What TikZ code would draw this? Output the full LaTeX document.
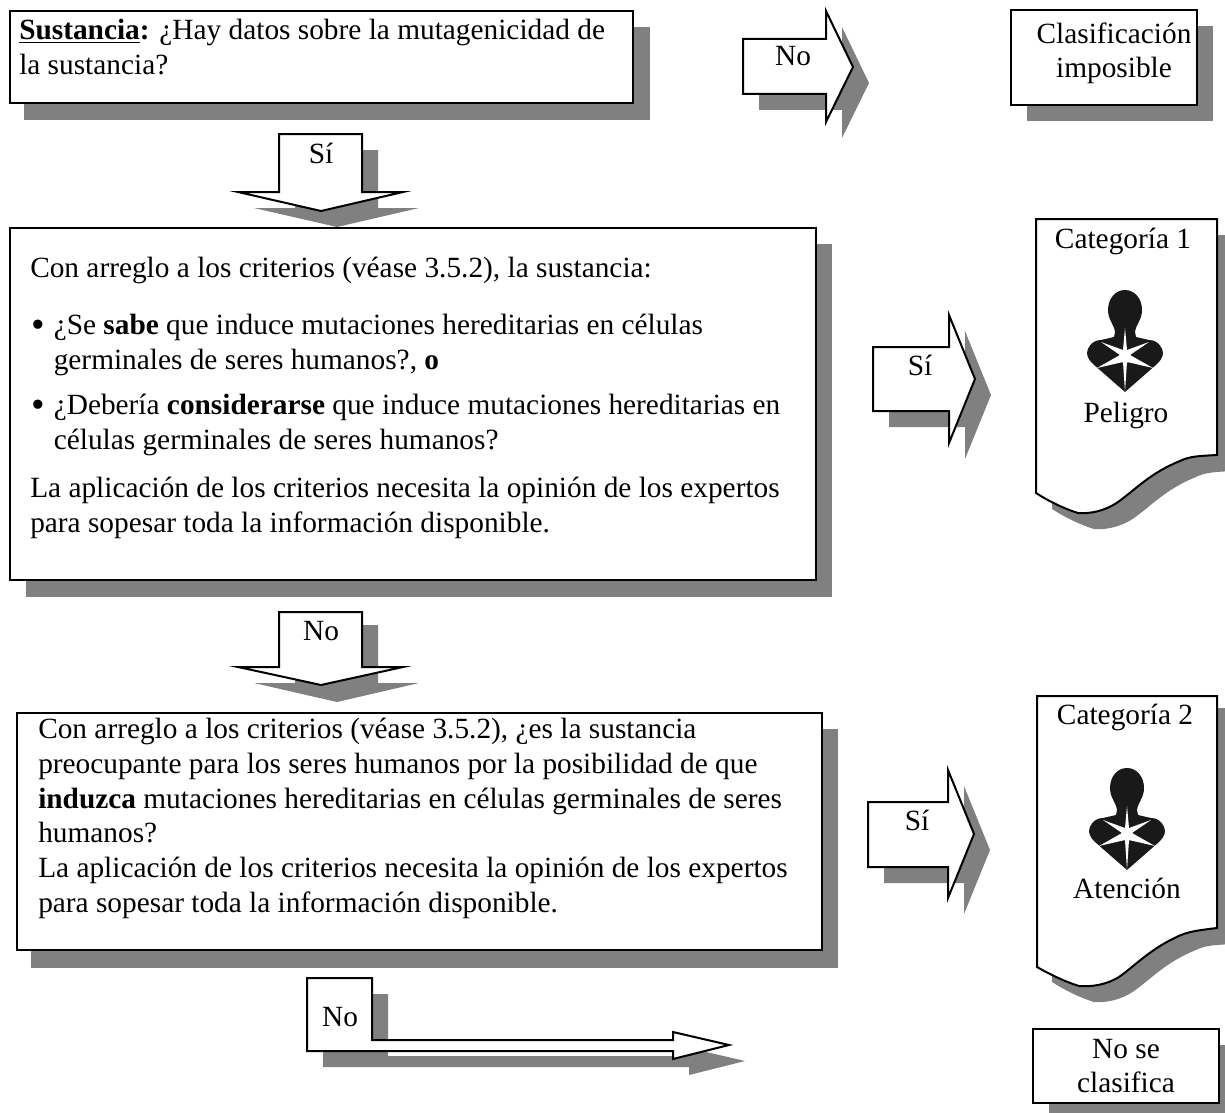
\documentclass[tikz,border=0pt]{standalone}
\usepackage{fontspec}
\setmainfont{Liberation Serif}
\usetikzlibrary{positioning}
\newcommand{\bulletmark}{\makebox[16.9pt][l]{\raisebox{-2pt}{\fontsize{29}{29}\selectfont\textbullet}}}

\begin{document}
\begin{tikzpicture}[
    x=0.75pt, y=-0.75pt,
    outline/.style={draw=black, fill=white, line width=1.5pt, line join=miter, outer sep=0pt},
    shade/.style={fill=black!50, draw=none},
    blocktext/.style={font=\fontsize{22}{26}\selectfont, align=left, anchor=north west, inner sep=0pt},
    smalltext/.style={font=\fontsize{22}{25.8}\selectfont, align=center, inner sep=0pt},
    arrowtext/.style={font=\fontsize{22}{26}\selectfont, anchor=base, inner sep=0pt}
]
\useasboundingbox (0,0) rectangle (1225,1113);
\clip (0,0) rectangle (1225,1113);

% === Shapes repeated with their shadows ===
\def\downarrowpath{(279,134) -- (362,134) -- (362,192) -- (403,192) -- (321,211) -- (238,192) -- (279,192) -- cycle}
\def\leafpath{(1036,219) -- (1217,219) -- (1217,455) .. controls (1200,456) and (1190,456) .. (1180,461) .. controls (1150,473) and (1135,490) .. (1118,502) .. controls (1105,511) and (1090,514) .. (1078,513) .. controls (1065,509) and (1050,502) .. (1036,493) -- cycle}

% === Down arrows ===
\fill[shade, shift={(16,16)}] \downarrowpath;
\draw[outline] \downarrowpath;
\fill[shade, shift={(16,491)}] \downarrowpath;
\draw[outline, shift={(0,478)}] (279,134) -- (362,134) -- (362,189) -- (403,189) -- (321,207) -- (238,189) -- (279,189) -- cycle;

% === Boxes on the left ===
\fill[shade] (24,27) rectangle (650,120);
\node[outline, minimum width=467.5pt, minimum height=69pt, anchor=north west] (question) at (10,11) {};
\fill[shade] (26,244) rectangle (832,597);
\node[outline, minimum width=604.5pt, minimum height=264pt, anchor=north west] (known) at (10,228) {};
\fill[shade] (31,729) rectangle (838,968);
\node[outline, minimum width=604pt, minimum height=177.75pt, anchor=north west] (concern) at (17,713) {};

\node[blocktext] (question-text) at (19,19) {\textbf{\underline{Sustancia}:} ¿Hay datos sobre la mutagenicidad de\\la sustancia?};
\node[blocktext] (known-intro) at (30,257) {Con arreglo a los criterios (véase 3.5.2), la sustancia:};
\node[blocktext] (known-a) at (31,314) {\bulletmark ¿Se \textbf{sabe} que induce mutaciones hereditarias en células\\\hspace*{16.9pt}germinales de seres humanos?, \textbf{o}};
\node[blocktext] (known-b) at (31,394) {\bulletmark ¿Debería \textbf{considerarse} que induce mutaciones hereditarias en\\\hspace*{16.9pt}células germinales de seres humanos?};
\node[blocktext] (known-c) at (30,477) {La aplicación de los criterios necesita la opinión de los expertos\\para sopesar toda la información disponible.};
\node[blocktext] (concern-text) at (38,718) {Con arreglo a los criterios (véase 3.5.2), ¿es la sustancia\\preocupante para los seres humanos por la posibilidad de que\\\textbf{induzca} mutaciones hereditarias en células germinales de seres\\humanos?\\La aplicación de los criterios necesita la opinión de los expertos\\para sopesar toda la información disponible.};

% === Labels of the down arrows ===
\node[arrowtext] (si-down) at (321,163) {Sí};
\node[arrowtext] (no-down) at (321,640) {No};

% === Right pointing arrows ===
\fill[shade] (759,55) -- (842,55) -- (842,27) -- (869,83) -- (842,138) -- (842,110) -- (759,110) -- cycle;
\draw[outline] (743,39) -- (826,39) -- (826,11) -- (853,67) -- (826,122) -- (826,94) -- (743,94) -- cycle;
\node[arrowtext] (no-right) at (793,66) {No};

\fill[shade] (889,363) -- (965,363) -- (965,331) -- (991,395) -- (965,459) -- (965,427) -- (889,427) -- cycle;
\draw[outline] (873,347) -- (949,347) -- (949,315) -- (975,379) -- (949,443) -- (949,411) -- (873,411) -- cycle;
\node[arrowtext] (si-one) at (920,375) {Sí};

\fill[shade] (884,818) -- (964,818) -- (964,786) -- (990,850) -- (964,914) -- (964,883) -- (884,883) -- cycle;
\draw[outline] (868,802) -- (948,802) -- (948,770) -- (974,834) -- (948,898) -- (948,867) -- (868,867) -- cycle;
\node[arrowtext] (si-two) at (917,830) {Sí};

% === Result boxes ===
\fill[shade] (1027,26) rectangle (1213,121);
\node[outline, minimum width=139.5pt, minimum height=71pt, anchor=north west] (impossible) at (1011,10) {};
\node[smalltext] (impossible-text) at (1114,53) {Clasificación\\imposible};

\fill[shade, shift={(16,16)}] \leafpath;
\draw[outline] \leafpath;
\node[arrowtext] (cat-one) at (1123,248) {Categoría 1};
\node[arrowtext] (danger) at (1126,422) {Peligro};

\fill[shade, shift={(16,489)}] \leafpath;
\draw[outline, shift={(1,473)}] (1036,223) -- (1216,223) -- (1216,455) .. controls (1200,457) and (1190,458) .. (1180,462) .. controls (1150,475) and (1135,492) .. (1118,504) .. controls (1105,512) and (1090,514) .. (1078,513) .. controls (1065,509) and (1050,502) .. (1036,494) -- cycle;
\node[arrowtext] (cat-two) at (1125,724) {Categoría 2};
\node[arrowtext] (warning) at (1127,898) {Atención};

\fill[shade] (1049,1045) rectangle (1235,1119);
\node[outline, minimum width=139.5pt, minimum height=55.5pt, anchor=north west] (none) at (1033,1029) {};
\node[smalltext] (none-text) at (1126,1066) {No se\\clasifica};

% === Hazard symbols ===
\foreach \symx/\symy in {1125/290, 1127/768} {
  \begin{scope}[shift={(\symx,\symy)}]
    \fill[black!90] (0,0) .. controls (10,0) and (17,9) .. (17,20) .. controls (17,30) and (11,34) .. (10,42) -- (11,47) -- (24,50) .. controls (33,50) and (38,58) .. (38,63) .. controls (38,68) and (34,72) .. (32,74) -- (0,102) -- (-32,74) .. controls (-34,72) and (-38,68) .. (-38,63) .. controls (-38,58) and (-33,50) .. (-24,50) -- (-11,47) -- (-10,42) .. controls (-11,34) and (-17,30) .. (-17,20) .. controls (-17,9) and (-10,0) .. (0,0) -- cycle;
    \fill[white] (0,38) -- (2,60) -- (24,52) -- (5,65) -- (28,78) -- (2,72) -- (0,102) -- (-2,72) -- (-28,78) -- (-5,65) -- (-24,52) -- (-2,60) -- cycle;
    \fill[white] (0,67) circle (6);
  \end{scope}
}

% === Bottom arrow ===
\fill[shade] (323,994) -- (388,994) -- (388,1056) -- (689,1056) -- (689,1048) -- (745,1061) -- (689,1075) -- (689,1067) -- (323,1067) -- cycle;
\draw[outline] (307,978) -- (372,978) -- (372,1040) -- (673,1040) -- (673,1032) -- (729,1045) -- (673,1059) -- (673,1051) -- (307,1051) -- cycle;
\node[arrowtext] (no-bottom) at (340,1026) {No};

\end{tikzpicture}
\end{document}
